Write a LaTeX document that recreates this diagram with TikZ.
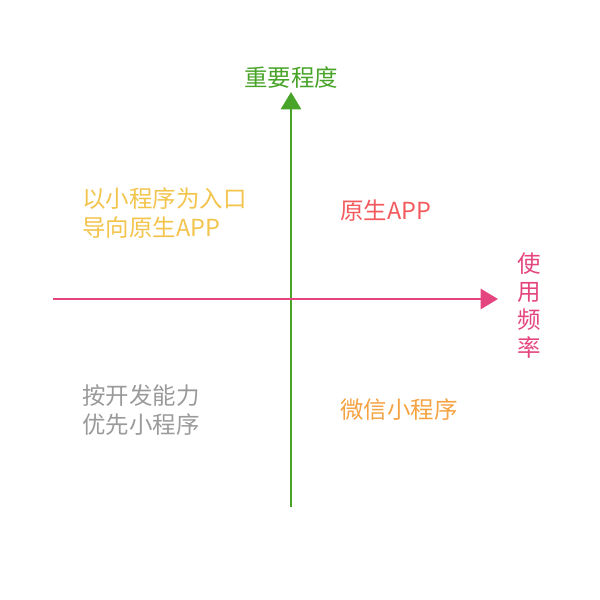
\documentclass[tikz,border=0pt]{standalone}
\usepackage{fontspec}
\setmainfont{Noto Sans CJK SC}
\usetikzlibrary{arrows.meta, positioning}
\definecolor{axisgreen}{HTML}{48A428}
\definecolor{axispink}{HTML}{E4457F}
\definecolor{quadyellow}{HTML}{F3C44C}
\definecolor{quadred}{HTML}{F25A5E}
\definecolor{quadgray}{HTML}{9A9A9A}
\definecolor{quadorange}{HTML}{F5A342}
\tikzset{
  axisline/.style={line width=2.1pt, -{Triangle[length=13pt, width=15pt]}},
  quadtext/.style={font=\fontsize{17.6}{21.5}\selectfont, align=left, inner sep=0pt, anchor=west}
}

\begin{document}
\begin{tikzpicture}[x=0.75pt, y=-0.75pt]
    \useasboundingbox (0,0) rectangle (600,600);
    % axes
    \coordinate (ybot) at (291,507);
    \coordinate (ytop) at (291,92);
    \coordinate (xleft) at (53,299);
    \coordinate (xright) at (498,299);
    \draw[axisline, axisgreen] (ybot) -- (ytop);
    \draw[axisline, axispink] (xleft) -- (xright);
    % axis labels
    \node[font=\fontsize{17.6}{21}\selectfont, text=axisgreen, inner sep=0pt] (ylab) at (291,78) {重要程度};
    \node[font=\fontsize{17.6}{21}\selectfont, text=axispink, align=center, inner sep=0pt] (xlab) at (529,306) {使\\用\\频\\率};
    % quadrants
    \node[quadtext, text=quadyellow] (q2) at (82,213) {以小程序为入口\\导向原生APP};
    \node[quadtext, text=quadred] (q1) at (340,211) {原生APP};
    \node[quadtext, text=quadgray] (q3) at (82,410) {按开发能力\\优先小程序};
    \node[quadtext, text=quadorange] (q4) at (340,410) {微信小程序};
\end{tikzpicture}
\end{document}
